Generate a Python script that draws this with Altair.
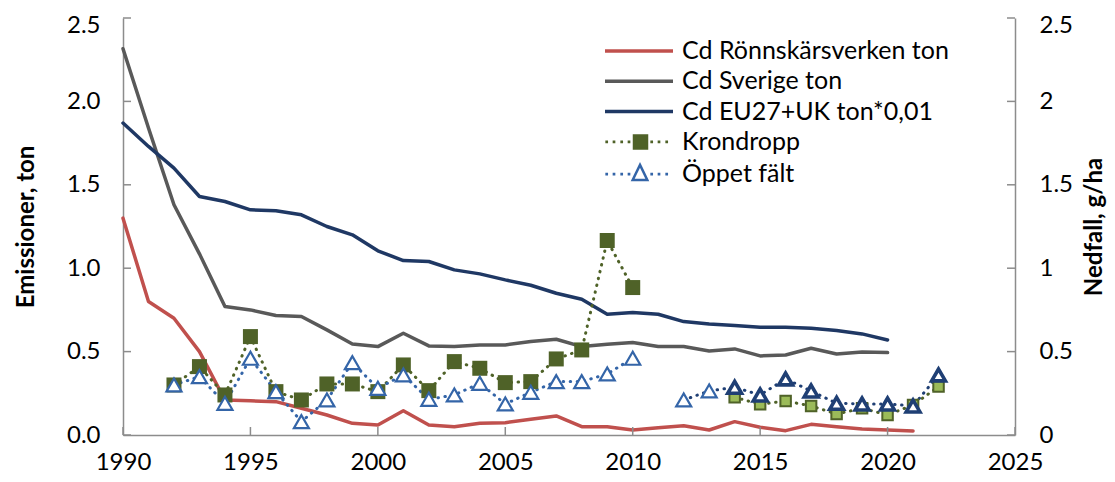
import altair as alt
import pandas as pd

FONT = "Lato"

# ---------------- data ----------------
years_ronn = list(range(1990, 2022))
cd_ronnskar = [1.30, 0.80, 0.70, 0.50, 0.21, 0.205, 0.20, 0.16, 0.12, 0.07,
               0.06, 0.145, 0.06, 0.05, 0.07, 0.074, 0.094, 0.114, 0.05, 0.05,
               0.03, 0.044, 0.056, 0.03, 0.08, 0.046, 0.026, 0.064, 0.05, 0.036,
               0.03, 0.024]

years_nat = list(range(1990, 2021))
cd_sverige = [2.316, 1.84, 1.38, 1.086, 0.77, 0.75, 0.716, 0.71, 0.63, 0.546,
              0.53, 0.61, 0.534, 0.53, 0.54, 0.54, 0.56, 0.574, 0.53, 0.544,
              0.554, 0.53, 0.53, 0.504, 0.516, 0.474, 0.48, 0.52, 0.486, 0.498,
              0.494]
cd_eu = [1.87, 1.73, 1.60, 1.43, 1.40, 1.35, 1.345, 1.32, 1.25, 1.20,
         1.104, 1.046, 1.04, 0.99, 0.966, 0.93, 0.898, 0.85, 0.814, 0.724,
         0.734, 0.724, 0.68, 0.666, 0.656, 0.646, 0.646, 0.64, 0.626, 0.606,
         0.57]

kron_years_a = list(range(1992, 2011))
kron_a = [0.30, 0.41, 0.24, 0.59, 0.26, 0.21, 0.306, 0.306, 0.26, 0.42,
          0.266, 0.44, 0.40, 0.314, 0.32, 0.456, 0.51, 1.166, 0.884]
kron_years_b = list(range(2014, 2023))
kron_b = [0.226, 0.184, 0.204, 0.174, 0.126, 0.16, 0.12, 0.18, 0.29]

oppet_years_a = list(range(1992, 2011))
oppet_a = [0.30, 0.35, 0.19, 0.46, 0.26, 0.08, 0.21, 0.434, 0.28, 0.36,
           0.214, 0.24, 0.31, 0.186, 0.256, 0.32, 0.32, 0.366, 0.46]
oppet_years_b = list(range(2012, 2023))
oppet_b = [0.21, 0.264, 0.286, 0.24, 0.336, 0.264, 0.19, 0.186, 0.186, 0.174, 0.36]

x_ticks = [1990, 1995, 2000, 2005, 2010, 2015, 2020, 2025]
y_ticks = [0, 0.5, 1.0, 1.5, 2.0, 2.5]

series_names = ["Cd Rönnskärsverken ton", "Cd Sverige ton", "Cd EU27+UK ton*0,01",
                "Krondropp", "Öppet fält"]

# ---------------- styles ----------------
RED = "#c0504d"
GREY = "#595959"
NAVY = "#1f3864"
DKGREEN = "#4f6228"
LTGREEN = "#9bbb59"
BLUE = "#3465a8"
NAVY2 = "#1f3f74"
AXGREY = "#8c8c8c"
W, H = 892, 417

# ---------------- tables ----------------
emis = pd.DataFrame(
    [{"year": y, "value": v, "series": series_names[0]} for y, v in zip(years_ronn, cd_ronnskar)]
    + [{"year": y, "value": v, "series": series_names[1]} for y, v in zip(years_nat, cd_sverige)]
    + [{"year": y, "value": v, "series": series_names[2]} for y, v in zip(years_nat, cd_eu)]
)

rows = []
for y, v in zip(kron_years_a, kron_a):
    rows.append({"year": y, "value": v, "series": "Krondropp", "seg": "kron1", "late": y >= 2014})
for y, v in zip(kron_years_b, kron_b):
    rows.append({"year": y, "value": v, "series": "Krondropp", "seg": "kron2", "late": y >= 2014})
for y, v in zip(oppet_years_a, oppet_a):
    rows.append({"year": y, "value": v, "series": "Öppet fält", "seg": "opp1", "late": y >= 2014})
for y, v in zip(oppet_years_b, oppet_b):
    rows.append({"year": y, "value": v, "series": "Öppet fält", "seg": "opp2", "late": y >= 2014})
dep = pd.DataFrame(rows)

legend_df = pd.DataFrame({"series": series_names})
xtick_df = pd.DataFrame({"year": x_ticks})
ytick_df = pd.DataFrame({"value": y_ticks})

# ---------------- scales / axes ----------------
x_scale = alt.Scale(domain=[1990, 2025], nice=False, zero=False)
y_scale = alt.Scale(domain=[0, 2.5], nice=False)

color_scale = alt.Scale(
    domain=series_names[:3] + ["kron1", "kron2", "opp1", "opp2"],
    range=[RED, GREY, NAVY, DKGREEN, DKGREEN, BLUE, NAVY2],
)

common_axis = dict(
    labelFont=FONT, labelFontSize=24, labelColor="black",
    titleFont=FONT, titleFontSize=24, titleColor="black", titleFontWeight="bold",
    domainColor=AXGREY, domainWidth=1.5, ticks=False, tickSize=0,
    grid=False, labelOverlap=False, labelFlush=False,
)
top_label_offset = {"condition": {"test": "datum.value == 2.5", "value": 7}, "value": 0}

x_axis = alt.Axis(values=x_ticks, format="d", title=None, labelPadding=15, **common_axis)
y_left_axis = alt.Axis(values=y_ticks, format=".1f", title="Emissioner, ton",
                       labelPadding=23, titleAngle=270, titleX=-97, titleY=H / 2,
                       titleBaseline="middle", titleAlign="center",
                       labelOffset=top_label_offset, **common_axis)
y_right_axis = alt.Axis(values=y_ticks, format="~g", title="Nedfall, g/ha",
                        orient="right", labelPadding=24, titleAngle=270,
                        titleX=79, titleY=H / 2, titleBaseline="middle", titleAlign="center",
                        labelOffset=top_label_offset, **common_axis)

X = alt.X("year:Q", scale=x_scale, axis=x_axis)
Yl = alt.Y("value:Q", scale=y_scale, axis=y_left_axis)
Yr = alt.Y("value:Q", scale=y_scale, axis=y_right_axis)

# ---------------- legend symbols ----------------
def dot(x):
    return f"M{x-0.01:.2f},-0.01h0.02v0.02h-0.02Z"

dots = "".join(dot(x) for x in [-1.08, -0.35, 0.42, 1.15, 3.42, 4.15, 4.92])
line_path = "M-1.125,-0.05H5.425V0.05H-1.125Z"
kron_path = dots + "M1.65,-0.65H2.95V0.65H1.65Z"
opp_path = dots + "M2.25,-0.93L2.98,0.57L1.52,0.57Z"

legend = alt.Legend(
    title=None, orient="none", legendX=482, legendY=20.5, padding=0,
    labelFont=FONT, labelFontSize=25, labelColor="black", labelLimit=600,
    labelOffset=52, symbolSize=400, symbolStrokeWidth=2.5, symbolOpacity=1,
    rowPadding=4.3,
)

legend_layer = alt.Chart(legend_df).transform_filter("false").mark_point(
    filled=True, size=400, strokeWidth=2.5, opacity=1
).encode(
    shape=alt.Shape("series:N", scale=alt.Scale(domain=series_names,
                    range=[line_path, line_path, line_path, kron_path, opp_path]), legend=legend),
    fill=alt.Fill("series:N", scale=alt.Scale(domain=series_names,
                  range=[RED, GREY, NAVY, DKGREEN, "white"]), legend=legend),
    stroke=alt.Stroke("series:N", scale=alt.Scale(domain=series_names,
                      range=[RED, GREY, NAVY, DKGREEN, BLUE]), legend=legend),
)

# ---------------- inward tick marks ----------------
xticks_layer = alt.Chart(xtick_df).mark_rule(color=AXGREY, strokeWidth=1.5).encode(
    x=X, y=alt.value(H), y2=alt.value(H - 8))
yticks_left = alt.Chart(ytick_df).mark_rule(color=AXGREY, strokeWidth=1.5).encode(
    y=Yl, x=alt.value(0), x2=alt.value(8))
yticks_right = alt.Chart(ytick_df).mark_rule(color=AXGREY, strokeWidth=1.5).encode(
    y=Yl, x=alt.value(W), x2=alt.value(W - 8))

# ---------------- emission lines (left axis) ----------------
lines = alt.Chart(emis).mark_line(strokeWidth=3.5, strokeJoin="round", strokeCap="round").encode(
    x=X,
    y=Yl,
    color=alt.Color("series:N", scale=color_scale, legend=None),
    detail="series:N",
)

left = alt.layer(lines, xticks_layer, yticks_left, yticks_right, legend_layer)

# ---------------- deposition (right axis) ----------------
base_dep = alt.Chart(dep)

kron_line = base_dep.transform_filter(alt.datum.series == "Krondropp").mark_line(
    strokeWidth=3, strokeDash=[0.5, 6.5], strokeCap="round"
).encode(x=X, y=Yr, color=alt.Color("seg:N", scale=color_scale, legend=None), detail="seg:N")

opp_line = base_dep.transform_filter(alt.datum.series == "Öppet fält").mark_line(
    strokeWidth=3, strokeDash=[0.5, 6.5], strokeCap="round"
).encode(x=X, y=Yr, color=alt.Color("seg:N", scale=color_scale, legend=None), detail="seg:N")

kron_early = base_dep.transform_filter(
    (alt.datum.series == "Krondropp") & (alt.datum.late == False)
).mark_point(shape="square", filled=True, size=225, color=DKGREEN, opacity=1).encode(x=X, y=Yr)

kron_late = base_dep.transform_filter(
    (alt.datum.series == "Krondropp") & (alt.datum.late == True)
).mark_point(shape="square", size=110, fill=LTGREEN, stroke=DKGREEN, strokeWidth=2,
             opacity=1).encode(x=X, y=Yr)

opp_early = base_dep.transform_filter(
    (alt.datum.series == "Öppet fält") & (alt.datum.late == False)
).mark_point(shape="triangle-up", size=225, fill="white", stroke=BLUE, strokeWidth=2.2,
             opacity=1).encode(x=X, y=Yr)

opp_late = base_dep.transform_filter(
    (alt.datum.series == "Öppet fält") & (alt.datum.late == True)
).mark_point(shape="triangle-up", size=190, fill="white", stroke=NAVY2, strokeWidth=3.6,
             opacity=1).encode(x=X, y=Yr)

right = alt.layer(kron_line, opp_line, kron_early, kron_late, opp_early, opp_late)

chart = alt.layer(left, right).resolve_scale(y="independent").properties(
    width=W, height=H,
    padding={"left": 115, "top": 10, "right": 92, "bottom": 39},
    autosize=alt.AutoSizeParams(type="none"),
    background="white",
).configure_view(strokeWidth=0)

chart.save("out.html", embed_options={"renderer": "svg", "actions": False})
